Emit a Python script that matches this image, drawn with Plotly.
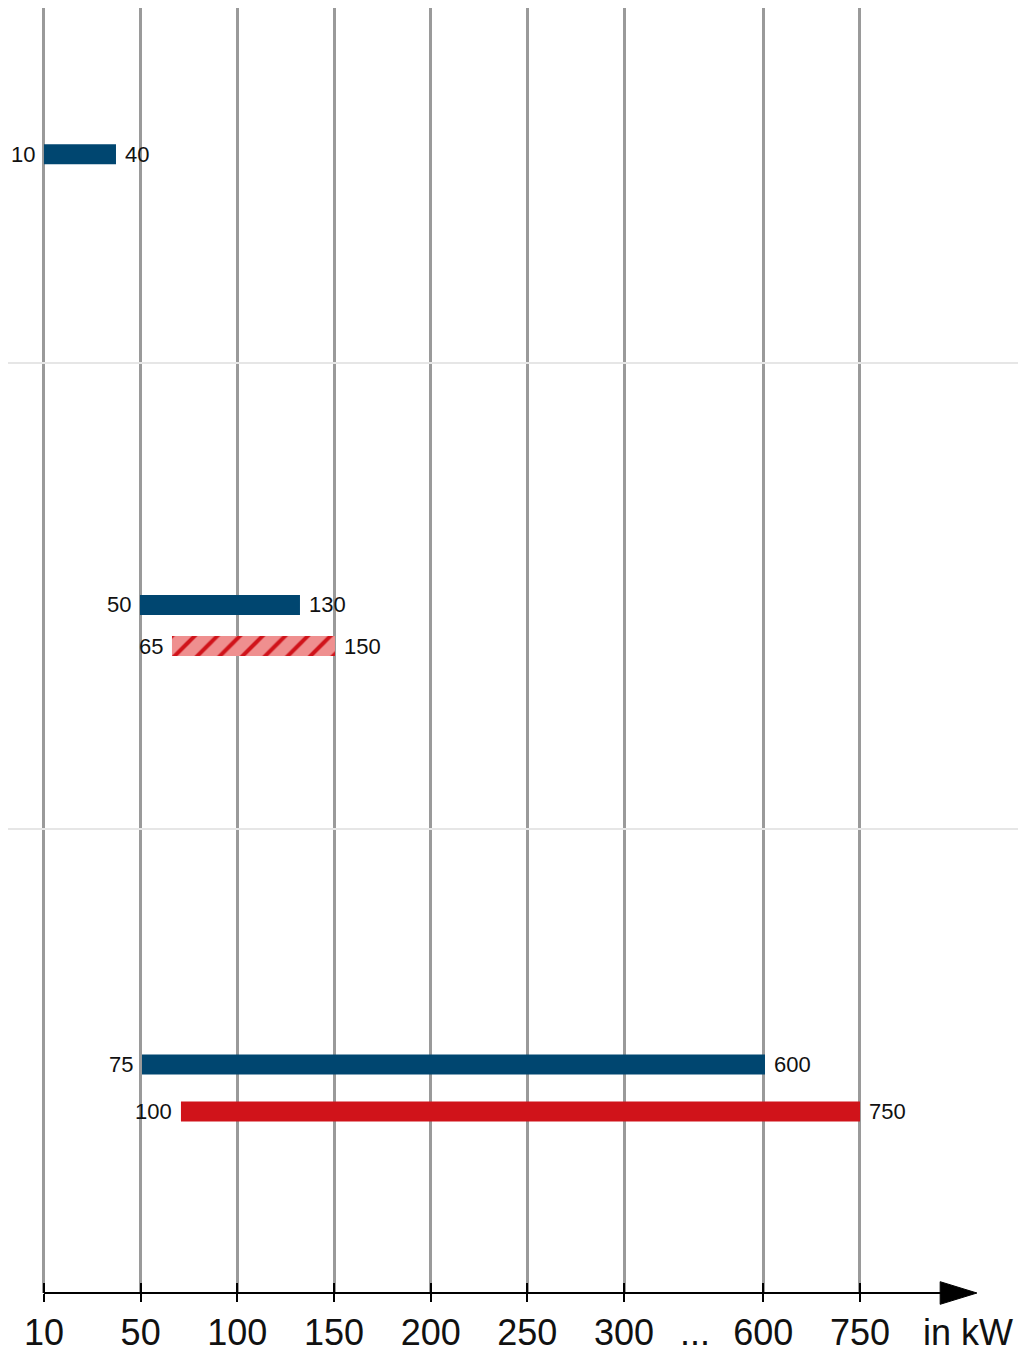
import plotly.graph_objects as go

# ---- data ----
tick_labels = ["10", "50", "100", "150", "200", "250", "300", "600", "750"]
tick_positions = [0, 1, 2, 3, 4, 5, 6, 7.44, 8.44]   # axis units (non-linear kW axis)
gap_label = "..."
gap_position = 6.73
unit_label = "in kW"
unit_position = 9.56

# bars: drawn extents on the axis, and their value labels
blue_start = [0.0, 0.993, 1.014]
blue_end = [0.745, 2.648, 7.458]
blue_y = [0.553, 1.519, 2.504]
blue_lo_labels = ["10", "50", "75"]
blue_hi_labels = ["40", "130", "600"]

hatch_start = [1.324]
hatch_end = [3.01]
hatch_y = [1.607]
hatch_lo_labels = ["65"]
hatch_hi_labels = ["150"]

red_start = [1.417]
red_end = [8.441]
red_y = [2.605]
red_lo_labels = ["100"]
red_hi_labels = ["750"]

row_separators = [1, 2]

# ---- style ----
BLUE = "#004670"
RED = "#d0131a"
PINK = "#ef8f8f"
FONT = "Liberation Sans, Arial, sans-serif"
BAR_W = 0.0427
X_RANGE = [-0.372, 10.075]
Y_RANGE = [2.994, 0.2393]
LABEL_SIZE = 22
TICK_SIZE = 36

fig = go.Figure()

fig.add_trace(go.Bar(
    orientation="h", y=blue_y, base=blue_start,
    x=[e - s for s, e in zip(blue_start, blue_end)],
    width=BAR_W, marker=dict(color=BLUE, line=dict(width=0)),
    hoverinfo="skip", showlegend=False))

fig.add_trace(go.Bar(
    orientation="h", y=hatch_y, base=hatch_start,
    x=[e - s for s, e in zip(hatch_start, hatch_end)],
    width=BAR_W,
    marker=dict(color=PINK, line=dict(width=0),
                pattern=dict(shape="/", fgcolor=RED, bgcolor=PINK,
                             size=16, solidity=0.25, fillmode="replace")),
    hoverinfo="skip", showlegend=False))

fig.add_trace(go.Bar(
    orientation="h", y=red_y, base=red_start,
    x=[e - s for s, e in zip(red_start, red_end)],
    width=BAR_W, marker=dict(color=RED, line=dict(width=0)),
    hoverinfo="skip", showlegend=False))

annotations = []


def add_labels(starts, ends, ys, lo, hi):
    for s, e, y, a, b in zip(starts, ends, ys, lo, hi):
        annotations.append(dict(x=s, y=y, xref="x", yref="y", text=a,
                                showarrow=False, xanchor="right", xshift=-7,
                                font=dict(size=LABEL_SIZE, color="#111111", family=FONT)))
        annotations.append(dict(x=e, y=y, xref="x", yref="y", text=b,
                                showarrow=False, xanchor="left", xshift=7,
                                font=dict(size=LABEL_SIZE, color="#111111", family=FONT)))


add_labels(blue_start, blue_end, blue_y, blue_lo_labels, blue_hi_labels)
add_labels(hatch_start, hatch_end, hatch_y, hatch_lo_labels, hatch_hi_labels)
add_labels(red_start, red_end, red_y, red_lo_labels, red_hi_labels)

for pos, txt in [(gap_position, gap_label), (unit_position, unit_label)]:
    annotations.append(dict(x=pos, y=0, xref="x", yref="paper", text=txt,
                            showarrow=False, xanchor="center", yanchor="top",
                            yshift=-17, font=dict(size=TICK_SIZE, color="#111111", family=FONT)))

shapes = [
    # axis line
    dict(type="line", xref="x", yref="paper", x0=0, x1=9.35, y0=0, y1=0,
         line=dict(color="black", width=2), layer="above"),
    # arrow head
    dict(type="path", xref="x", yref="paper",
         path="M 9.27,0.0088 L 9.65,0 L 9.27,-0.0088 Z",
         fillcolor="black", line=dict(color="black", width=1), layer="above"),
]

fig.update_layout(
    width=1021, height=1345,
    margin=dict(l=0, r=11, t=0, b=53),
    paper_bgcolor="white", plot_bgcolor="white",
    barmode="overlay",
    annotations=annotations,
    shapes=shapes,
    xaxis=dict(range=X_RANGE, tickmode="array", tickvals=tick_positions,
               ticktext=tick_labels, showgrid=True, gridcolor="#9a9a9a",
               gridwidth=2.5, zeroline=False, showline=False,
               ticks="outside", ticklen=8, tickwidth=2, tickcolor="black",
               tickfont=dict(size=TICK_SIZE, color="#111111", family=FONT),
               fixedrange=True),
    xaxis2=dict(range=X_RANGE, overlaying="x", anchor="y", side="bottom",
                tickmode="array", tickvals=tick_positions, showticklabels=False,
                showgrid=False, zeroline=False, showline=False,
                ticks="inside", ticklen=10, tickwidth=2, tickcolor="black"),
    yaxis=dict(range=Y_RANGE, tickmode="array", tickvals=row_separators,
               showticklabels=False, showgrid=True, gridcolor="#e6e6e6",
               gridwidth=2, zeroline=False, showline=False, ticks="",
               fixedrange=True),
)

# invisible helper trace that activates the overlay tick axis
fig.add_trace(go.Scatter(x=[X_RANGE[0]], y=[Y_RANGE[0]], xaxis="x2", mode="markers",
                         marker=dict(opacity=0), hoverinfo="skip", showlegend=False))

fig.write_html("out.html")
